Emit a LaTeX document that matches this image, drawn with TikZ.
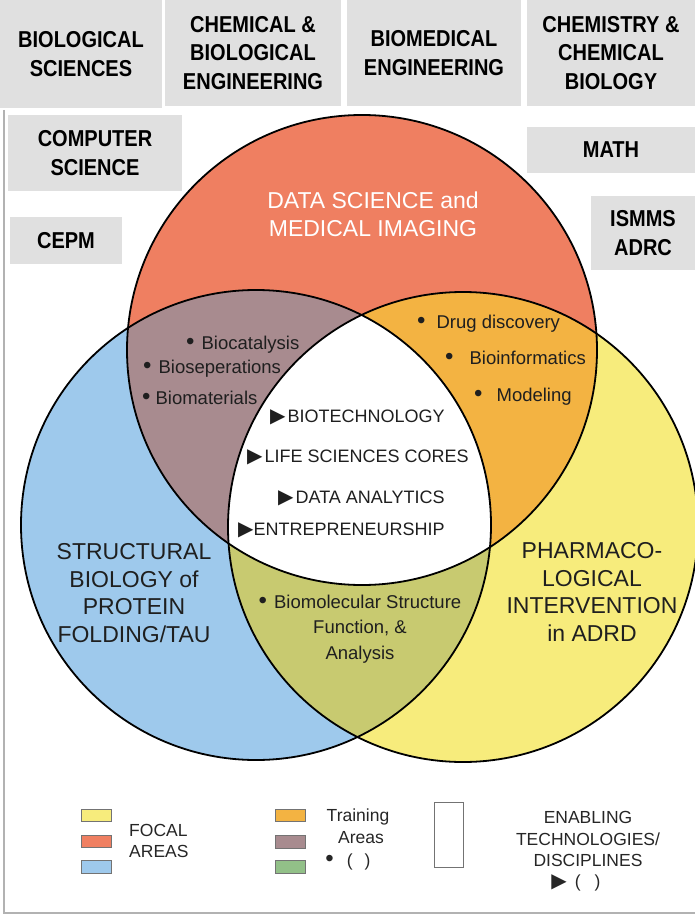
\documentclass[tikz,border=0pt]{standalone}
\usepackage{fontspec}
\setmainfont{Liberation Sans}
\newfontfamily\unitfont[FakeStretch=0.87]{Liberation Sans}
\newfontfamily\symfont{DejaVu Sans}
\definecolor{unitgray}{RGB}{224,224,224}
\definecolor{focalred}{RGB}{239,127,97}
\definecolor{focalblue}{RGB}{158,201,236}
\definecolor{focalyellow}{RGB}{247,236,124}
\definecolor{trainpurple}{RGB}{168,139,143}
\definecolor{trainorange}{RGB}{243,179,66}
\definecolor{traingreen}{RGB}{200,202,112}
\definecolor{legendgreen}{RGB}{146,192,136}
\newcommand{\bul}[1]{{\fontsize{24}{24}\selectfont\textbullet}\hspace{#1pt}}
\newcommand{\tri}{{\symfont\fontsize{20}{20}\selectfont ▶}}

\begin{document}
\begin{tikzpicture}
  [
    x=1pt, y=-1pt,
    unitbox/.style =
      {fill=unitgray, align=center, inner sep=0pt,
       font=\unitfont\bfseries\fontsize{23}{28.5}\selectfont},
    focal/.style =
      {align=center, inner sep=0pt, text=black!88,
       font=\fontsize{23}{27.7}\selectfont},
    itemtext/.style =
      {anchor=west, inner sep=0pt, text=black!88,
       font=\fontsize{18.5}{25.5}\selectfont},
    coretext/.style =
      {anchor=west, inner sep=0pt, text=black!88,
       font=\fontsize{18}{22}\selectfont},
    legtext/.style =
      {align=center, inner sep=0pt, text=black!85,
       font=\fontsize{17.5}{21.5}\selectfont},
    swatch/.style =
      {draw=black!55, line width=1pt, minimum width=30pt,
       minimum height=12.5pt, inner sep=0pt},
    rim/.style = {draw=black, line width=1.8pt}
  ]
  \useasboundingbox (0,0) rectangle (695,915);

  % frame
  \coordinate (frameTop)    at (4,110);
  \coordinate (frameCorner) at (4,913);
  \coordinate (frameEnd)    at (695,913);
  \draw[black!30, line width=1.2pt] (frameTop) -- (frameCorner) -- (frameEnd);

  % focal areas
  \coordinate (cRed)    at (362,350);
  \coordinate (cBlue)   at (256,525);
  \coordinate (cYellow) at (463,527);

  \fill[focalred]    (cRed)    circle [radius=235pt];
  \fill[focalblue]   (cBlue)   circle [radius=235pt];
  \fill[focalyellow] (cYellow) circle [radius=235pt];
  \begin{scope}
    \clip (cBlue) circle [radius=235pt];
    \fill[traingreen] (cYellow) circle [radius=235pt];
  \end{scope}
  \begin{scope}
    \clip (cRed) circle [radius=235pt];
    \fill[trainpurple] (cBlue)   circle [radius=235pt];
    \fill[trainorange] (cYellow) circle [radius=235pt];
    \clip (cBlue) circle [radius=235pt];
    \fill[white] (cYellow) circle [radius=235pt];
  \end{scope}
  \draw[rim] (cRed)    circle [radius=235pt];
  \draw[rim] (cBlue)   circle [radius=235pt];
  \draw[rim] (cYellow) circle [radius=235pt];

  % departments
  \node [unitbox, minimum width=162pt, minimum height=108pt] at ( 81, 54)   (biosci)  {BIOLOGICAL\\SCIENCES};
  \node [unitbox, minimum width=176pt, minimum height=106pt] at (253, 53)   (chembio) {CHEMICAL \&\\BIOLOGICAL\\ENGINEERING};
  \node [unitbox, minimum width=174pt, minimum height=106pt] at (434, 53)   (bme)     {BIOMEDICAL\\ENGINEERING};
  \node [unitbox, minimum width=168pt, minimum height=106pt] at (611, 53)   (chemcb)  {CHEMISTRY \&\\CHEMICAL\\BIOLOGY};
  \node [unitbox, minimum width=174pt, minimum height=76pt]  at ( 95,153)   (compsci) {COMPUTER\\SCIENCE};
  \node [unitbox, minimum width=112pt, minimum height=47pt]  at ( 66,240.5) (cepm)    {CEPM};
  \node [unitbox, minimum width=168pt, minimum height=46pt]  at (611,150)   (math)    {MATH};
  \node [unitbox, minimum width=104pt, minimum height=74pt]  at (643,233)   (adrc)    {ISMMS\\ADRC};

  % focal labels
  \node [focal, text=white] at (373,214) (dsmi)  {DATA SCIENCE and\\MEDICAL IMAGING};
  \node [focal]             at (134,593) (sbpf)  {STRUCTURAL\\BIOLOGY of\\PROTEIN\\FOLDING/TAU};
  \node [focal]             at (592,592) (pharm) {PHARMACO-\\LOGICAL\\INTERVENTION\\in ADRD};

  % training areas
  \node [itemtext] at (186,345) (bcat) {\bul{7}Biocatalysis};
  \node [itemtext] at (143,369) (bsep) {\bul{7}Bioseperations};
  \node [itemtext] at (142,398) (bmat) {\bul{5}Biomaterials};
  \node [itemtext] at (417,324) (drug) {\bul{11}Drug discovery};
  \node [itemtext] at (445,358) (binf) {\bul{16}Bioinformatics};
  \node [itemtext] at (474,397) (modl) {\bul{14}Modeling};
  \node [itemtext, anchor=center, align=center] at (360,629) (bmol)
    {\bul{7}Biomolecular Structure\\Function, \&\\Analysis};

  % enabling technologies
  \node [coretext] at (270,417) (btech) {\tri\hspace{2pt}BIOTECHNOLOGY};
  \node [coretext] at (247,457) (lsc)   {\tri\hspace{2pt}LIFE SCIENCES CORES};
  \node [coretext] at (278,498) (dana)  {\tri\hspace{2pt}DATA ANALYTICS};
  \node [coretext] at (238,530) (entr)  {\tri\hspace{0pt}ENTREPRENEURSHIP};

  % legend
  \node [swatch, fill=focalyellow] at ( 96,815.5) (swY) {};
  \node [swatch, fill=focalred]    at ( 96,841.5) (swR) {};
  \node [swatch, fill=focalblue]   at ( 96,867)   (swB) {};
  \node [legtext, anchor=west, align=left] at (129,841) (focalkey) {FOCAL\\AREAS};
  \node [swatch, fill=trainorange] at (290,815.5) (swO) {};
  \node [swatch, fill=trainpurple] at (290,842)   (swP) {};
  \node [swatch, fill=legendgreen] at (290,867)   (swG) {};
  \node [legtext] at (358,817) (trainkey) {Training};
  \node [legtext] at (361,838) (areakey)  {Areas};
  \node [legtext] at (348,862) (bulkey)   {\bul{13}(\hspace{12pt})};
  \node [swatch, minimum width=29pt, minimum height=65pt] at (448.5,834.5) (corekey) {};
  \node [legtext] at (588,839) (enablekey) {ENABLING\\TECHNOLOGIES/\\DISCIPLINES};
  \node [legtext] at (576,883) (trikey)    {\tri\hspace{8pt}(\hspace{14pt})};

\end{tikzpicture}
\end{document}
